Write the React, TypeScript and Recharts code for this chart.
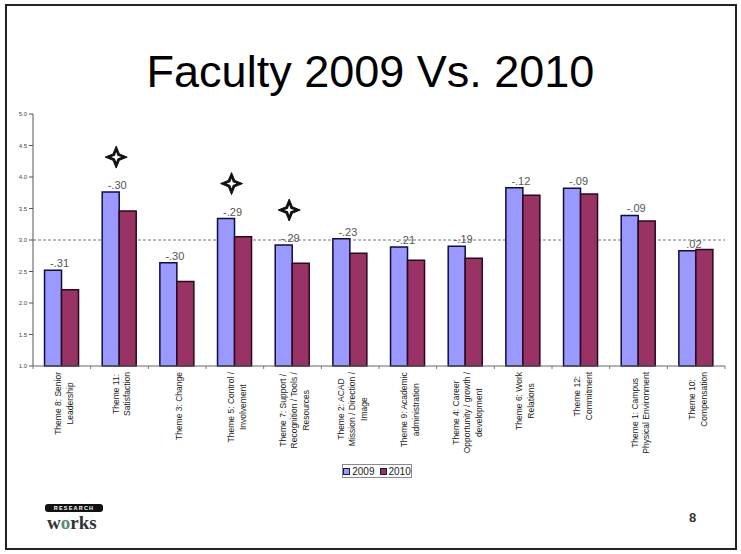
import React from 'react'
import { BarChart, Bar, XAxis, YAxis, CartesianGrid, Legend, LabelList } from 'recharts'

const themes = [
  'Theme 8: Senior\nLeadership',
  'Theme 11:\nSatisfaction',
  'Theme 3: Change',
  'Theme 5: Control /\nInvolvement',
  'Theme 7: Support /\nRecognition / Tools /\nResources',
  'Theme 2: ACAD\nMission / Direction /\nImage',
  'Theme 9: Academic\nadministration',
  'Theme 4: Career\nOpportunity / growth /\ndevelopment',
  'Theme 6: Work\nRelations',
  'Theme 12:\nCommitment',
  'Theme 1: Campus\nPhysical Environment',
  'Theme 10:\nCompensation',
]
const scores2009 = [2.52, 3.76, 2.64, 3.34, 2.92, 3.02, 2.89, 2.9, 3.83, 3.82, 3.39, 2.83]
const scores2010 = [2.21, 3.46, 2.34, 3.05, 2.63, 2.79, 2.68, 2.71, 3.71, 3.73, 3.3, 2.85]
const changes = ['-.31', '-.30', '-.30', '-.29', '-.29', '-.23', '-.21', '-.19', '-.12', '-.09', '-.09', '.02']
// themes marked with a star on the slide
const flagged = [false, true, false, true, true, false, false, false, false, false, false, false]
const yTicks = [1, 1.5, 2, 2.5, 3, 3.5, 4, 4.5, 5]
const benchmark = 3

const data = themes.map((theme, i) => ({
  theme,
  y2009: scores2009[i],
  y2010: scores2010[i],
  change: changes[i],
  flag: flagged[i],
}))

const FONT = '"Liberation Sans", Arial, sans-serif'
const TICK_FONT = 8.5
const LINE_H = 11.5

let ctx: CanvasRenderingContext2D | null = null
function textWidth(s: string) {
  if (!ctx) ctx = document.createElement('canvas').getContext('2d')
  if (!ctx) return s.length * TICK_FONT * 0.5
  ctx.font = `${TICK_FONT}px ${FONT}`
  return ctx.measureText(s).width
}

function ThemeTick(props: any) {
  const { x, y, payload, width, index } = props
  const band = (width || 692) / themes.length
  const lines = String(payload.value).split('\n')
  const maxW = Math.max(...lines.map(textWidth))
  const cy = y + 6 + maxW / 2
  return (
    <g>
      <line x1={x - band / 2} x2={x - band / 2} y1={y} y2={y + 3} stroke="#777" />
      {index === themes.length - 1 && (
        <line x1={x + band / 2} x2={x + band / 2} y1={y} y2={y + 3} stroke="#777" />
      )}
      {lines.map((ln, i) => {
        const lx = x + 2 + (i - (lines.length - 1) / 2) * LINE_H
        return (
          <text
            key={i}
            x={0}
            y={0}
            dy="0.35em"
            transform={`translate(${lx},${cy}) rotate(-90)`}
            textAnchor="middle"
            fontSize={TICK_FONT}
            fontFamily={FONT}
            fill="#222"
          >
            {ln}
          </text>
        )
      })}
    </g>
  )
}

const STAR = 'M0,-11 L3.2,-3.2 L11,0 L3.2,3.2 L0,11 L-3.2,3.2 L-11,0 L-3.2,-3.2 Z'
const STAR_IN = 'M0,-5 L1.3,-1.3 L5,0 L1.3,1.3 L0,5 L-1.3,1.3 L-5,0 L-1.3,-1.3 Z'

function ChangeLabel(props: any) {
  const x = Number(props.x)
  const y = Number(props.y)
  const w = Number(props.width)
  const i = props.index
  return (
    <g>
      <text x={x + w - 2} y={y - 3} textAnchor="middle" fontSize={11} fontFamily={FONT} fill="#555">
        {props.value}
      </text>
      {flagged[i] && (
        <g transform={`translate(${x + w - 3},${y - 35})`}>
          <path d={STAR} fill="#111" stroke="#111" strokeWidth={1} strokeLinejoin="round" />
          <path d={STAR_IN} fill="#fff" />
        </g>
      )}
    </g>
  )
}

function LegendBox(props: any) {
  const items = props.payload || []
  return (
    <div
      style={{
        height: 14,
        boxSizing: 'border-box',
        border: '1px solid #8a8a8a',
        display: 'flex',
        alignItems: 'center',
        justifyContent: 'center',
        gap: 5,
        fontFamily: FONT,
        fontSize: 10,
        color: '#222',
        background: '#fff',
      }}
    >
      {items.map((it: any) => (
        <span key={it.value} style={{ display: 'flex', alignItems: 'center', gap: 2 }}>
          <span
            style={{
              width: 5,
              height: 5,
              background: it.color,
              border: '1px solid #1a1a40',
              display: 'inline-block',
            }}
          />
          {it.value}
        </span>
      ))}
    </div>
  )
}

export default function App() {
  return (
    <div
      style={{
        position: 'absolute',
        left: 0,
        top: 0,
        width: 741,
        height: 554,
        background: '#fff',
        overflow: 'hidden',
      }}
    >
      <div
        style={{
          position: 'absolute',
          left: 5,
          top: 4,
          width: 732,
          height: 546,
          border: '2px solid #222',
          boxSizing: 'border-box',
        }}
      />
      <div
        style={{
          position: 'absolute',
          left: 0,
          top: 49,
          width: 741,
          textAlign: 'center',
          fontFamily: FONT,
          fontSize: 45,
          lineHeight: '45px',
          color: '#000',
        }}
      >
        Faculty 2009 Vs. 2010
      </div>
      <div style={{ position: 'absolute', left: 0, top: 0 }}>
        <BarChart
          width={741}
          height={554}
          data={data}
          margin={{ top: 114, right: 16, left: 8, bottom: 76 }}
          barCategoryGap="20%"
          barGap={0}
        >
          <CartesianGrid
            vertical={false}
            horizontalValues={[benchmark]}
            stroke="#777"
            strokeDasharray="3 2"
          />
          <XAxis
            dataKey="theme"
            height={98}
            interval={0}
            tickLine={false}
            tickSize={0}
            tickMargin={0}
            axisLine={{ stroke: '#666' }}
            tick={<ThemeTick />}
          />
          <YAxis
            width={25}
            domain={[1, 5]}
            ticks={yTicks}
            interval={0}
            tickSize={4}
            tickFormatter={(v: number) => v.toFixed(1)}
            axisLine={{ stroke: '#555' }}
            tickLine={{ stroke: '#555' }}
            tick={{ fontSize: 6, fill: '#444', fontFamily: FONT }}
          />
          <Legend
            content={<LegendBox />}
            wrapperStyle={{ left: 342, width: 70, bottom: 76 }}
          />
          <Bar
            dataKey="y2009"
            name="2009"
            fill="#9999FF"
            stroke="#0d0d40"
            strokeWidth={1.5}
            isAnimationActive={false}
          >
            <LabelList dataKey="change" content={<ChangeLabel />} />
          </Bar>
          <Bar
            dataKey="y2010"
            name="2010"
            fill="#993366"
            stroke="#2a0a1a"
            strokeWidth={1.5}
            isAnimationActive={false}
          />
        </BarChart>
      </div>
      <svg width={80} height={42} style={{ position: 'absolute', left: 40, top: 500 }}>
        <rect x={5} y={4} width={58} height={8} rx={3} fill="#111" />
        <text
          x={34}
          y={10}
          textAnchor="middle"
          fontSize={5.5}
          fontWeight="bold"
          fontFamily={FONT}
          fill="#fff"
          letterSpacing={1.2}
        >
          RESEARCH
        </text>
        <text x={7} y={29} fontSize={19} fontWeight="bold" fontFamily='"Liberation Serif", serif' fill="#333">
          w<tspan fill="#4f8f73">o</tspan>rks
        </text>
      </svg>
      <div
        style={{
          position: 'absolute',
          left: 682,
          top: 510,
          width: 21,
          textAlign: 'center',
          fontFamily: FONT,
          fontSize: 13,
          fontWeight: 'bold',
          color: '#333',
        }}
      >
        8
      </div>
    </div>
  )
}
